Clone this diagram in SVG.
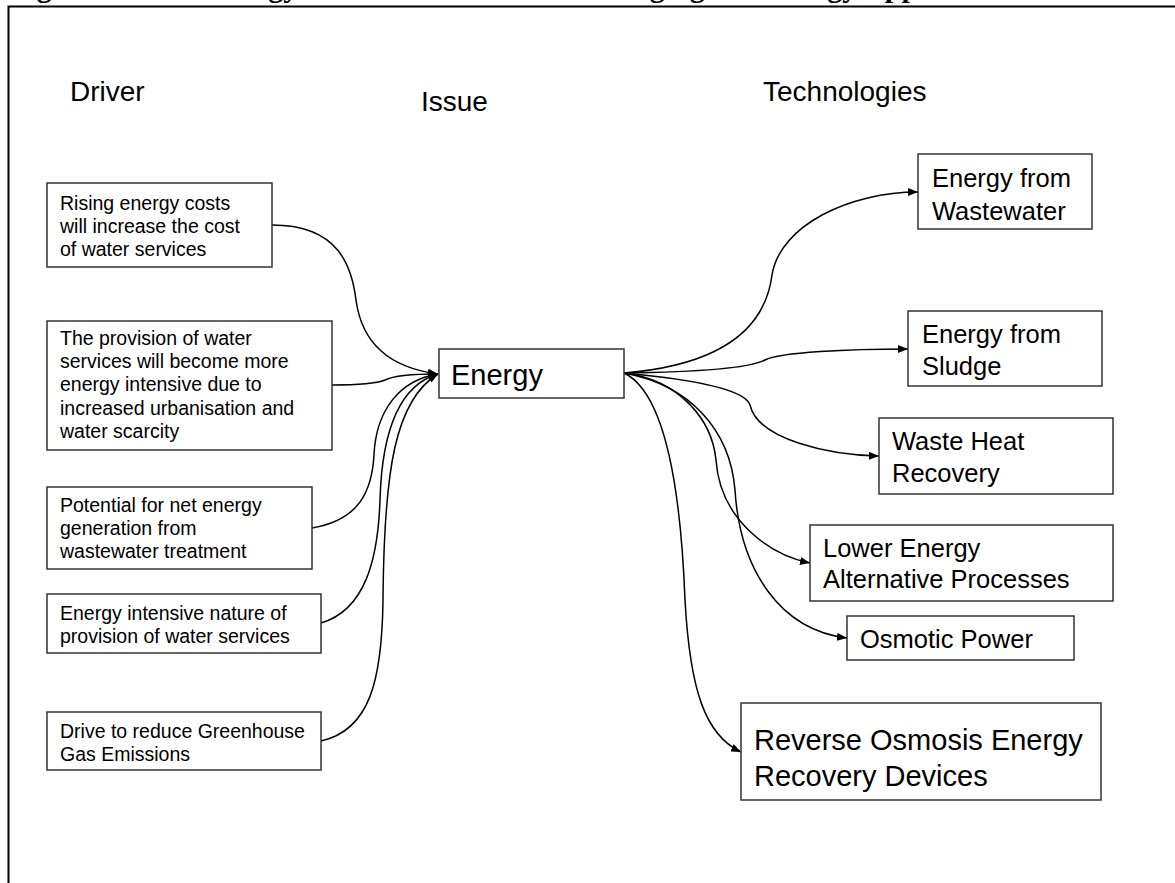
<svg xmlns="http://www.w3.org/2000/svg" width="1175" height="883" viewBox="0 0 1175 883">
  <defs>
    <marker id="arrow" viewBox="0 0 10 8" refX="10" refY="4" markerWidth="10" markerHeight="8" markerUnits="userSpaceOnUse" orient="auto">
      <path d="M0,0 L10,4 L0,8 Z" fill="#000"/>
    </marker>
    <style>
      .box { fill: #fff; stroke: #333; stroke-width: 1.5; }
      .link { fill: none; stroke: #000; stroke-width: 1.5; marker-end: url(#arrow); }
      .t { font-family: "Liberation Sans", Arial, sans-serif; fill: #000; }
      .head { font-size: 28px; }
      .small { font-size: 19.5px; }
      .mid { font-size: 25.5px; }
      .big { font-size: 29px; }
      .title { font-family: "Liberation Serif", "Times New Roman", serif; font-weight: bold; font-size: 30px; fill: #000; }
    </style>
  </defs>

  <rect width="1175" height="883" fill="#fff"/>

  <!-- caption running off the top edge -->
  <text class="title" y="-3"><tspan x="10">Figure</tspan><tspan x="205">Energy</tspan><tspan x="578">Emerging Technology Applications</tspan></text>

  <!-- frame -->
  <path d="M8.5,883 V6.5 H1175" fill="none" stroke="#000" stroke-width="2"/>

  <!-- column headings -->
  <g id="headings" class="t head">
    <text x="70" y="101">Driver</text>
    <text x="421" y="111">Issue</text>
    <text x="763" y="101">Technologies</text>
  </g>

  <!-- connectors -->
  <g id="connectors">
    <path class="link" d="M272,225 C340,225 352,268 356,300 C362,345 392,368 438,374"/>
    <path class="link" d="M332,385 C360,385 375,384 385,380 C395,375 415,374 438,374"/>
    <path class="link" d="M312,528 C360,520 372,490 374,455 C376,410 400,380 438,374"/>
    <path class="link" d="M321,623 C365,610 378,560 380,500 C382,430 400,385 438,374"/>
    <path class="link" d="M321,741 C370,730 382,680 383,600 C384,470 395,400 438,374"/>

    <path class="link" d="M624,373 C720,365 765,330 772,275 C780,225 850,192 918,192"/>
    <path class="link" d="M624,373 C700,372 750,368 765,360 C780,352 850,349 908,349"/>
    <path class="link" d="M624,373 C700,380 745,390 750,405 C758,440 830,455 879,456"/>
    <path class="link" d="M624,373 C680,380 712,420 716,460 C720,520 770,555 810,563"/>
    <path class="link" d="M624,373 C690,385 730,430 735,490 C740,570 780,630 847,638"/>
    <path class="link" d="M624,373 C660,390 680,470 685,600 C690,690 705,735 741,752"/>
  </g>

  <!-- drivers -->
  <g id="driver-energy-costs">
    <rect class="box" x="47" y="183" width="225" height="84"/>
    <text class="t small" x="60"><tspan y="210">Rising energy costs</tspan><tspan x="60" y="233">will increase the cost</tspan><tspan x="60" y="256">of water services</tspan></text>
  </g>
  <g id="driver-urbanisation">
    <rect class="box" x="47" y="321" width="285" height="129"/>
    <text class="t small" x="60"><tspan y="345">The provision of water</tspan><tspan x="60" y="368">services will become more</tspan><tspan x="60" y="391">energy intensive due to</tspan><tspan x="60" y="415">increased urbanisation and</tspan><tspan x="60" y="438">water scarcity</tspan></text>
  </g>
  <g id="driver-net-generation">
    <rect class="box" x="47" y="487" width="265" height="82"/>
    <text class="t small" x="60"><tspan y="512">Potential for net energy</tspan><tspan x="60" y="535">generation from</tspan><tspan x="60" y="558">wastewater treatment</tspan></text>
  </g>
  <g id="driver-energy-intensive">
    <rect class="box" x="47" y="594" width="274" height="59"/>
    <text class="t small" x="60"><tspan y="620">Energy intensive nature of</tspan><tspan x="60" y="643">provision of water services</tspan></text>
  </g>
  <g id="driver-ghg">
    <rect class="box" x="47" y="712" width="274" height="58"/>
    <text class="t small" x="60"><tspan y="738">Drive to reduce Greenhouse</tspan><tspan x="60" y="761">Gas Emissions</tspan></text>
  </g>

  <!-- issue -->
  <g id="issue-energy">
    <rect class="box" x="439" y="349" width="185" height="49"/>
    <text class="t big" x="451" y="385">Energy</text>
  </g>

  <!-- technologies -->
  <g id="tech-wastewater">
    <rect class="box" x="918" y="154" width="174" height="75"/>
    <text class="t mid" x="932"><tspan y="187">Energy from</tspan><tspan x="932" y="220">Wastewater</tspan></text>
  </g>
  <g id="tech-sludge">
    <rect class="box" x="908" y="311" width="194" height="75"/>
    <text class="t mid" x="922"><tspan y="343">Energy from</tspan><tspan x="922" y="375">Sludge</tspan></text>
  </g>
  <g id="tech-waste-heat">
    <rect class="box" x="879" y="418" width="234" height="76"/>
    <text class="t mid" x="892"><tspan y="450">Waste Heat</tspan><tspan x="892" y="482">Recovery</tspan></text>
  </g>
  <g id="tech-lower-energy">
    <rect class="box" x="810" y="525" width="303" height="76"/>
    <text class="t mid" x="823"><tspan y="557">Lower Energy</tspan><tspan x="823" y="588">Alternative Processes</tspan></text>
  </g>
  <g id="tech-osmotic">
    <rect class="box" x="847" y="616" width="227" height="44"/>
    <text class="t mid" x="860" y="648">Osmotic Power</text>
  </g>
  <g id="tech-ro-recovery">
    <rect class="box" x="741" y="703" width="360" height="97"/>
    <text class="t big" x="754"><tspan y="750">Reverse Osmosis Energy</tspan><tspan x="754" y="786">Recovery Devices</tspan></text>
  </g>
</svg>
